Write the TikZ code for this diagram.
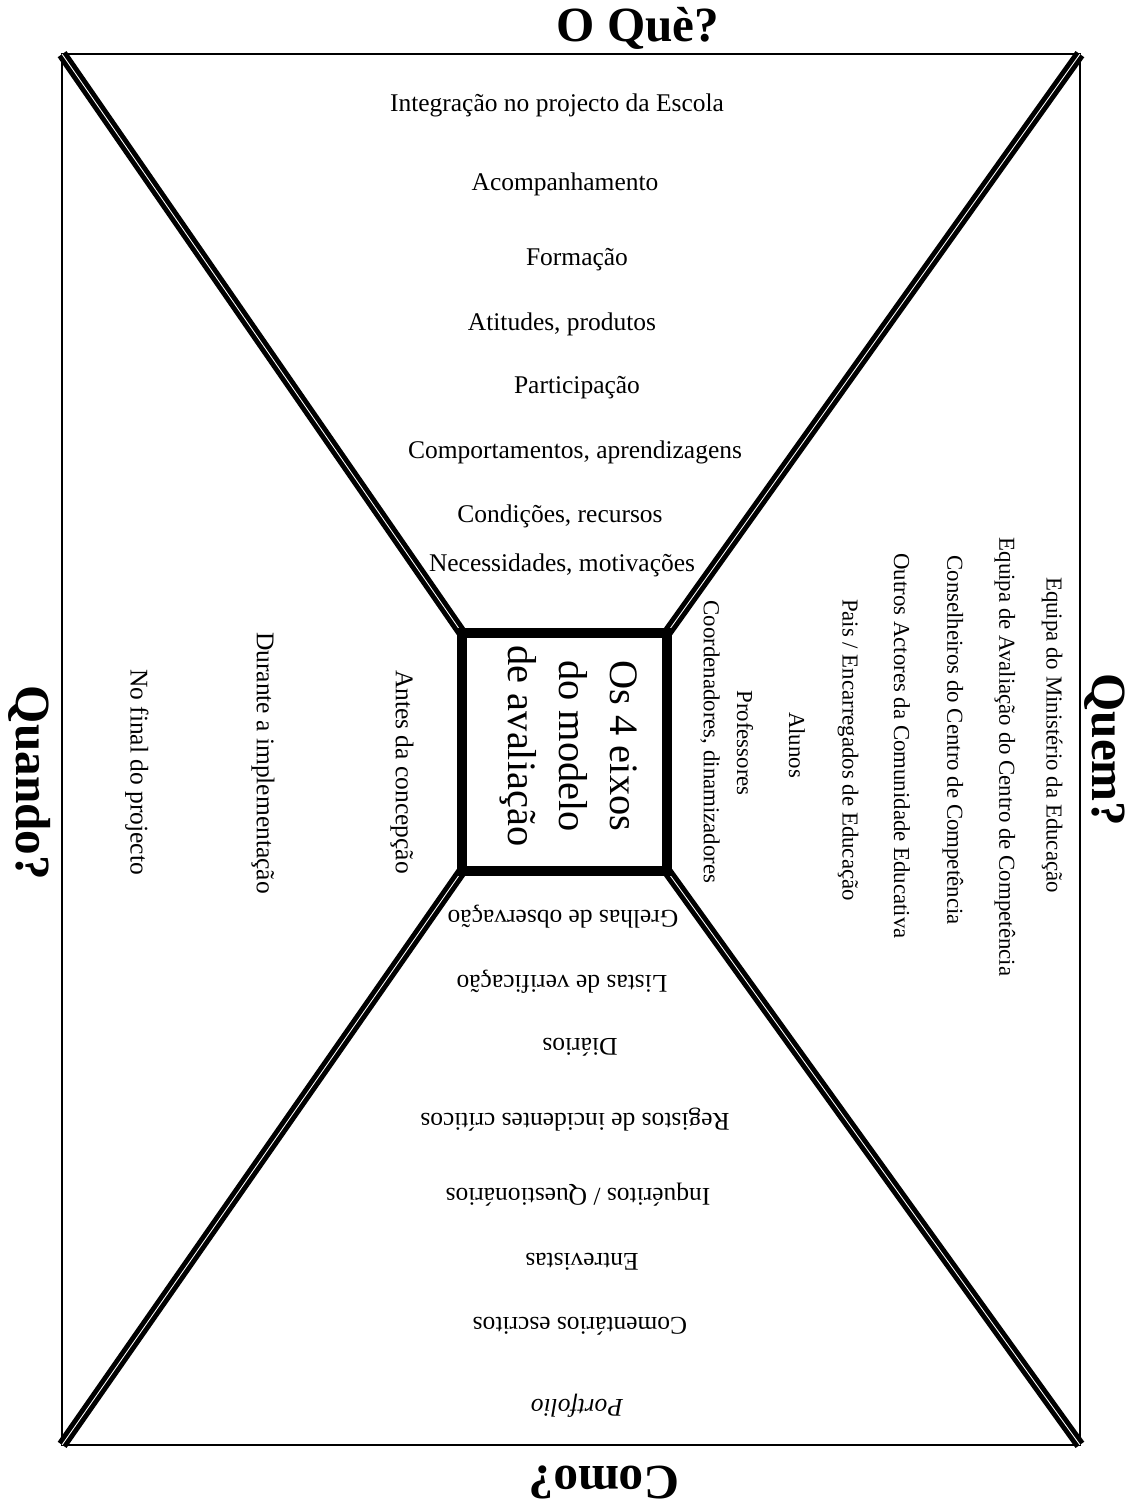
\documentclass[tikz,border=0pt]{standalone}
\usepackage{fontspec}
\setmainfont{Liberation Serif}

\tikzset{
  axistitle/.style={font=\fontsize{28}{30}\selectfont\bfseries},
  whatitem/.style={font=\fontsize{14.5}{17}\selectfont},
  whoitem/.style={font=\fontsize{13}{15}\selectfont, rotate=-90},
  whenitem/.style={font=\fontsize{14.5}{17}\selectfont, rotate=-90},
  howitem/.style={font=\fontsize{14.5}{17}\selectfont, rotate=180},
  divider/.style={line width=2.8pt, double=white, double distance=0.5pt},
}

\begin{document}
\begin{tikzpicture}[x=0.02cm, y=-0.02cm]
        \useasboundingbox (0,0) rectangle (1134,1508);
        % frame and centre box
        \node[draw, line width=1.2pt, outer sep=0pt, minimum width=20.36cm, minimum height=27.82cm] (frame) at (571,749.5) {};
        \node[outer sep=0pt, minimum width=4.1cm, minimum height=4.76cm] (eixos) at (564.5,752) {};
        % diagonals from the corners to the box
        \draw[divider] (frame.north west) -- (eixos.north west);
        \draw[divider] (frame.north east) -- (eixos.north east);
        \draw[divider] (frame.south west) -- (eixos.south west);
        \draw[divider] (frame.south east) -- (eixos.south east);
        \draw[line width=5.5pt] (eixos.north west) rectangle (eixos.south east);
        \node[rotate=-90, align=center, font=\fontsize{23}{29}\selectfont] (eixostxt) at (569,746) {Os 4 eixos\\do modelo\\de avaliação};
        % the four questions
        \node[axistitle] (oque) at (638,28) {O Què?};
        \node[axistitle, rotate=-90] (quem) at (1105,750) {Quem?};
        \node[axistitle, rotate=-90] (quando) at (30,783) {Quando?};
        \node[axistitle, rotate=180] (como) at (604,1482) {Como?};
        % O Que?
        \node[whatitem] (integracao) at (557,105) {Integração no projecto da Escola};
        \node[whatitem] (acompanhamento) at (565,184) {Acompanhamento};
        \node[whatitem] (formacao) at (577,260) {Formação};
        \node[whatitem] (atitudes) at (562,324) {Atitudes, produtos};
        \node[whatitem] (participacao) at (577,388) {Participação};
        \node[whatitem] (comportamentos) at (575,452) {Comportamentos, aprendizagens};
        \node[whatitem] (condicoes) at (560,516) {Condições, recursos};
        \node[whatitem] (necessidades) at (562,565) {Necessidades, motivações};
        % Quem?
        \node[whoitem] (ministerio) at (1052,735) {Equipa do Ministério da Educação};
        \node[whoitem] (equipa) at (1005,757) {Equipa de Avaliação do Centro de Competência};
        \node[whoitem] (conselheiros) at (953,740) {Conselheiros do Centro de Competência};
        \node[whoitem] (actores) at (902,746) {Outros Actores da Comunidade Educativa};
        \node[whoitem] (pais) at (848,750) {Pais / Encarregados de Educação};
        \node[whoitem] (alunos) at (797,745) {Alunos};
        \node[whoitem] (professores) at (745,743) {Professores};
        \node[whoitem] (coordenadores) at (710,742) {Coordenadores, dinamizadores};
        % Quando?
        \node[whenitem] (antes) at (402,772) {Antes da concepção};
        \node[whenitem] (durante) at (263,763) {Durante a implementação};
        \node[whenitem] (final) at (137,772) {No final do projecto};
        % Como?
        \node[howitem] (grelhas) at (563,917) {Grelhas de observação};
        \node[howitem] (listas) at (562,982) {Listas de verificação};
        \node[howitem] (diarios) at (580,1047) {Diários};
        \node[howitem] (registos) at (575,1120) {Registos de incidentes críticos};
        \node[howitem] (inqueritos) at (578,1195) {Inquéritos / Questionários};
        \node[howitem] (entrevistas) at (582,1262) {Entrevistas};
        \node[howitem] (comentarios) at (580,1326) {Comentários escritos};
        \node[howitem, font=\fontsize{14.5}{17}\selectfont\itshape] (portfolio) at (577,1406) {Portfolio};
      \end{tikzpicture}
\end{document}
